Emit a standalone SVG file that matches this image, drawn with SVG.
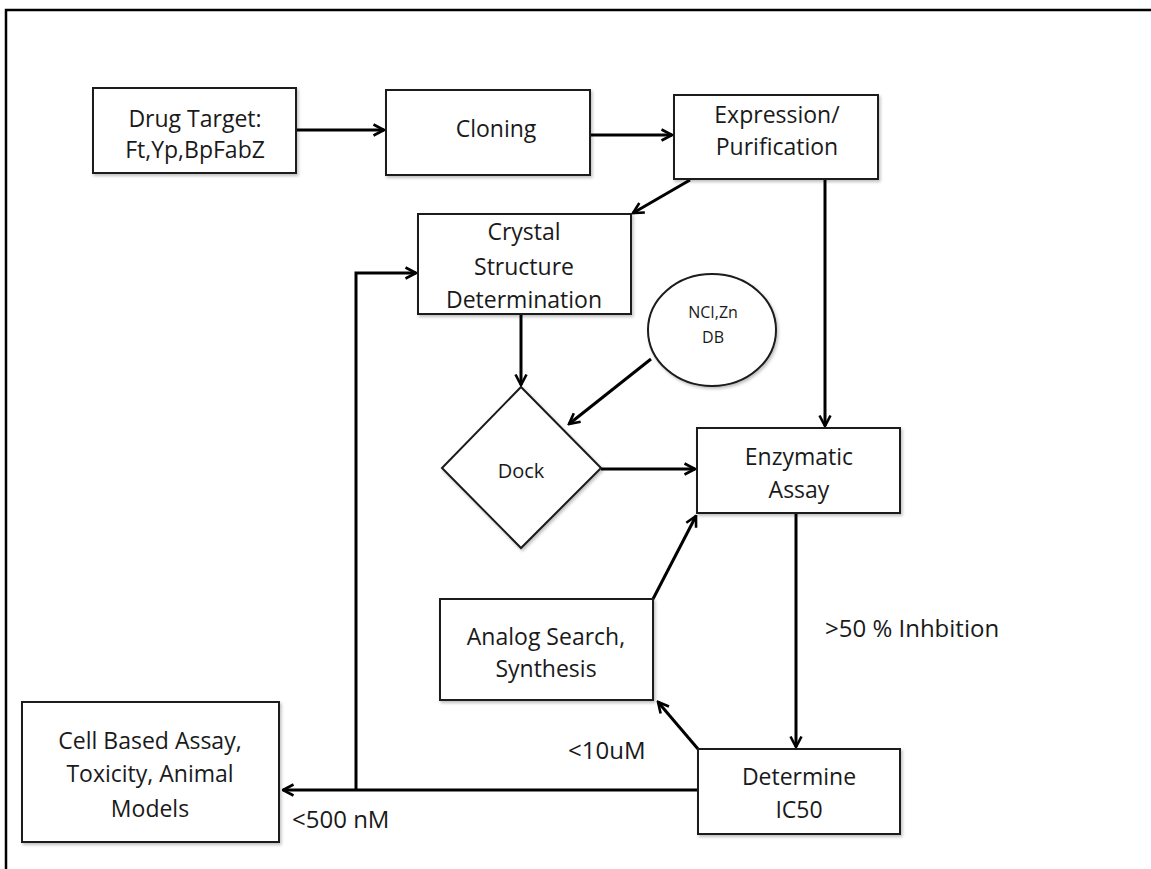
<svg xmlns="http://www.w3.org/2000/svg" width="1151" height="869" viewBox="0 0 1151 869">
<defs>
<marker id="ah" viewBox="0 0 14 14" refX="12.5" refY="7" markerWidth="14" markerHeight="14" markerUnits="userSpaceOnUse" orient="auto">
<path d="M2,1.5 L12.5,7 L2,12.5" fill="none" stroke="#000" stroke-width="2.6"/>
</marker>
<filter id="sh" x="-5%" y="-5%" width="115%" height="120%">
<feDropShadow dx="1.5" dy="2" stdDeviation="1.5" flood-color="#000" flood-opacity="0.25"/>
</filter>
</defs>
<style>
.box{fill:#fff;stroke:#1a1a1a;stroke-width:2;filter:url(#sh)}
.t{font-family:"Open Sans",Lato,sans-serif;font-size:23px;fill:#1a1a1a;text-anchor:middle}
.s{font-family:"Open Sans",Lato,sans-serif;font-size:16px;fill:#1a1a1a;text-anchor:middle}
.d{font-family:"Open Sans",Lato,sans-serif;font-size:20px;fill:#1a1a1a;text-anchor:middle}
.lab{font-family:"Open Sans",Lato,sans-serif;font-size:24px;fill:#1a1a1a}
.c{fill:none;stroke:#000;stroke-width:3;marker-end:url(#ah)}
</style>
<rect width="1151" height="869" fill="#fff"/>
<path d="M6,869 V10 H1151" fill="none" stroke="#000" stroke-width="2.5"/>

<g id="connectors">
<line class="c" x1="296" y1="130" x2="384" y2="130"/>
<line class="c" x1="590" y1="135" x2="672" y2="135"/>
<line class="c" x1="690" y1="180" x2="633" y2="213"/>
<line class="c" x1="825" y1="179" x2="825" y2="426"/>
<polyline class="c" points="356,790 356,273 416,273"/>
<line class="c" x1="521" y1="314" x2="521" y2="385"/>
<line class="c" x1="651" y1="359" x2="569" y2="424"/>
<line class="c" x1="601" y1="469" x2="695" y2="469"/>
<line class="c" x1="796" y1="513" x2="796" y2="747"/>
<line class="c" x1="653" y1="599" x2="696" y2="516"/>
<line class="c" x1="698" y1="749" x2="658" y2="702"/>
<line class="c" x1="698" y1="790" x2="283" y2="790"/>
<text class="lab" x="825" y="637">&gt;50 % Inhbition</text>
<text class="lab" x="568" y="759">&lt;10uM</text>
<text class="lab" x="292" y="828">&lt;500 nM</text>
</g>

<g id="drug-target">
<rect class="box" x="93" y="88" width="203" height="85"/>
<text class="t" x="195" y="127">Drug Target:</text>
<text class="t" x="195" y="158">Ft,Yp,BpFabZ</text>
</g>
<g id="cloning">
<rect class="box" x="386" y="90" width="204" height="85"/>
<text class="t" x="496" y="137">Cloning</text>
</g>
<g id="expression">
<rect class="box" x="674" y="95" width="204" height="84"/>
<text class="t" x="777" y="123">Expression/</text>
<text class="t" x="777" y="155">Purification</text>
</g>
<g id="crystal">
<rect class="box" x="418" y="214" width="213" height="100"/>
<text class="t" x="524" y="240">Crystal</text>
<text class="t" x="524" y="275">Structure</text>
<text class="t" x="524" y="308">Determination</text>
</g>
<g id="db">
<ellipse class="box" cx="712" cy="330" rx="64" ry="56"/>
<text class="s" x="713" y="318">NCI,Zn</text>
<text class="s" x="713" y="343">DB</text>
</g>
<g id="dock">
<polygon class="box" points="521,387 601,468 521,548 442,468"/>
<text class="d" x="521" y="478">Dock</text>
</g>
<g id="enzymatic">
<rect class="box" x="697" y="428" width="203" height="85"/>
<text class="t" x="799" y="465">Enzymatic</text>
<text class="t" x="799" y="498">Assay</text>
</g>
<g id="analog">
<rect class="box" x="440" y="599" width="213" height="101"/>
<text class="t" x="546" y="645">Analog Search,</text>
<text class="t" x="546" y="677">Synthesis</text>
</g>
<g id="determine">
<rect class="box" x="698" y="749" width="202" height="85"/>
<text class="t" x="799" y="785">Determine</text>
<text class="t" x="799" y="818">IC50</text>
</g>
<g id="cell">
<rect class="box" x="22" y="702" width="257" height="140"/>
<text class="t" x="150" y="749">Cell Based Assay,</text>
<text class="t" x="150" y="782">Toxicity, Animal</text>
<text class="t" x="150" y="817">Models</text>
</g>
</svg>
